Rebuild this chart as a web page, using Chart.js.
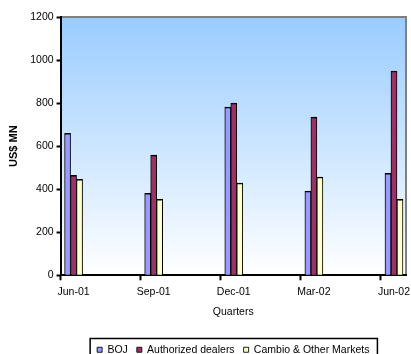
<!DOCTYPE html>
<html>
<head>
<meta charset="utf-8">
<script src="https://cdn.jsdelivr.net/npm/chart.js@4.4.1/dist/chart.umd.min.js"></script>
<style>
  html, body { margin: 0; padding: 0; background: #fff; overflow: hidden; }
  #wrap { width: 411px; height: 354px; position: relative; overflow: hidden; }
  canvas { display: block; }
</style>
</head>
<body>
<div id="wrap"><canvas id="fx" width="411" height="365"></canvas></div>
<script>
// Quarterly foreign exchange flows (US$ MN)
const quarters = ['Jun-01', 'Sep-01', 'Dec-01', 'Mar-02', 'Jun-02'];
const boj = [660, 381, 781, 391, 474];
const authorizedDealers = [465, 558, 800, 735, 949];
const cambioOther = [446, 353, 428, 456, 353];

const FONT = 'Arial, "Liberation Sans", sans-serif';

// bars sit a little right of each quarter tick
const barShift = 0.1625;

function points(values) {
    return values.map((v, i) => ({ x: i, y: v }));
}

// gradient plot background plus the grey top/right frame
const plotFrame = {
    id: 'plotFrame',
    beforeDraw(chart) {
        const { ctx, chartArea: a } = chart;
        const g = ctx.createLinearGradient(0, a.top, 0, a.bottom);
        g.addColorStop(0, '#99CCFF');
        g.addColorStop(1, '#FFFFFF');
        ctx.save();
        ctx.fillStyle = g;
        ctx.fillRect(a.left, a.top, a.right - a.left, a.bottom - a.top);
        ctx.strokeStyle = '#808080';
        ctx.lineWidth = 2;
        ctx.beginPath();
        ctx.moveTo(a.left, a.top);
        ctx.lineTo(a.right, a.top);
        ctx.lineTo(a.right, a.bottom);
        ctx.stroke();
        ctx.restore();
    }
};

// black box round the legend
const legendBox = {
    id: 'legendBox',
    afterDraw(chart) {
        const boxes = chart.legend.legendHitBoxes;
        if (!boxes || !boxes.length) return;
        const ctx = chart.ctx;
        const left = boxes[0].left - 7;
        const last = boxes[boxes.length - 1];
        const right = last.left + last.width + 8;
        const top = boxes[0].top - 6;
        ctx.save();
        ctx.strokeStyle = '#000';
        ctx.lineWidth = 1.5;
        ctx.strokeRect(left, top, right - left, 40);
        ctx.restore();
    }
};

new Chart(document.getElementById('fx'), {
    type: 'bar',
    data: {
        datasets: [
            { label: 'BOJ', data: points(boj), backgroundColor: '#9999FF' },
            { label: 'Authorized dealers', data: points(authorizedDealers), backgroundColor: '#993366' },
            { label: 'Cambio & Other Markets', data: points(cambioOther), backgroundColor: '#FFFFCC' }
        ]
    },
    options: {
        responsive: false,
        animation: false,
        devicePixelRatio: 1,
        layout: { padding: { left: 4, right: 5, top: 17, bottom: 0 } },
        datasets: {
            bar: {
                borderColor: '#000',
                borderWidth: { top: 1.5, left: 1, right: 1, bottom: 0 },
                barThickness: 6
            }
        },
        scales: {
            x: {
                type: 'linear',
                offset: false,
                min: -barShift,
                max: 4.15,
                afterBuildTicks(scale) {
                    const t = [];
                    quarters.forEach((q, i) => {
                        t.push({ value: i - barShift });
                        t.push({ value: i });
                    });
                    scale.ticks = t;
                },
                // last label may hang past the frame
                afterFit(scale) {
                    scale.paddingLeft = 0;
                    scale.paddingRight = 0;
                },
                grid: {
                    offset: false,
                    drawOnChartArea: false,
                    tickLength: 5,
                    tickWidth: 2,
                    tickColor: c => (c.tick && Number.isInteger(c.tick.value)) ? 'rgba(0,0,0,0)' : '#000'
                },
                border: { color: '#000', width: 2 },
                ticks: {
                    autoSkip: false,
                    maxRotation: 0,
                    padding: 6,
                    color: '#000',
                    font: { family: FONT, size: 10.5 },
                    callback: v => Number.isInteger(v) ? quarters[v] : ''
                },
                title: {
                    display: true,
                    text: 'Quarters',
                    color: '#000',
                    padding: { top: 1, bottom: 17 },
                    font: { family: FONT, size: 10.5 }
                }
            },
            y: {
                min: 0,
                max: 1200,
                grid: {
                    drawOnChartArea: false,
                    tickLength: 4,
                    tickWidth: 2,
                    tickColor: '#000'
                },
                border: { color: '#000', width: 2 },
                ticks: {
                    stepSize: 200,
                    padding: 3,
                    color: '#000',
                    font: { family: FONT, size: 10.5 },
                    callback: v => String(v)
                },
                title: {
                    display: true,
                    text: 'US$ MN',
                    color: '#000',
                    padding: { top: 3, bottom: 7 },
                    font: { family: FONT, size: 11, weight: 'bold' }
                }
            }
        },
        plugins: {
            legend: {
                position: 'bottom',
                fullSize: false,
                labels: {
                    boxWidth: 5,
                    boxHeight: 5,
                    padding: 9,
                    color: '#000',
                    font: { family: FONT, size: 10.5 }
                }
            },
            tooltip: { enabled: false }
        }
    },
    plugins: [plotFrame, legendBox]
});
</script>
</body>
</html>
